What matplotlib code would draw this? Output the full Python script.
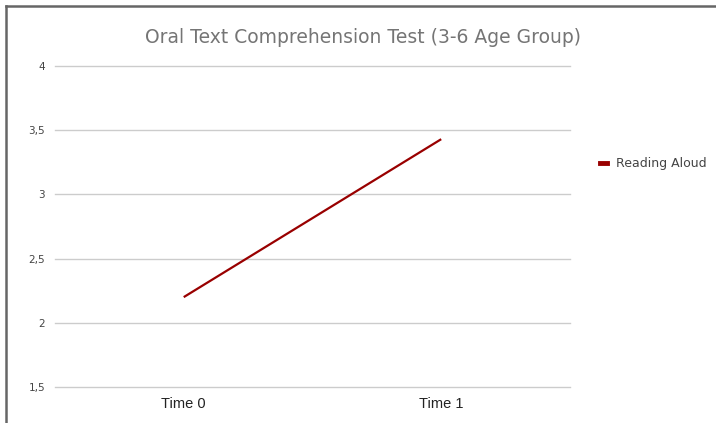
import matplotlib.pyplot as plt
from matplotlib.lines import Line2D

# data
categories = ["Time 0", "Time 1"]
reading_aloud = [2.2, 3.43]
y_ticks = [1.5, 2, 2.5, 3, 3.5, 4]
y_tick_labels = ["1,5", "2", "2,5", "3", "3,5", "4"]

fig = plt.figure(figsize=(7.16, 4.23), dpi=100)
ax = fig.add_axes([0.0768, 0.0851, 0.7192, 0.7589])

ax.plot(range(len(categories)), reading_aloud, color="#990000", linewidth=1.6,
        label="Reading Aloud", solid_capstyle="butt")

ax.set_xlim(-0.5, len(categories) - 0.5)
ax.set_ylim(1.5, 4)
ax.set_yticks(y_ticks)
ax.set_yticklabels(y_tick_labels, fontsize=7.5, color="#444444")
ax.set_xticks(range(len(categories)))
ax.set_xticklabels(categories, fontsize=10.5, color="#222222", family="Liberation Sans")
ax.tick_params(axis="both", length=0)
ax.tick_params(axis="y", pad=7)
ax.tick_params(axis="x", pad=7)
ax.grid(axis="y", color="#cccccc", linewidth=1)
for gl in ax.get_ygridlines():
    gl.set_clip_on(False)
ax.set_axisbelow(True)
for s in ax.spines.values():
    s.set_visible(False)

fig.text(0.507, 0.912, "Oral Text Comprehension Test (3-6 Age Group)",
         ha="center", va="center", fontsize=13.5, color="#757575")

fig.legend(handles=[Line2D([], [], color="#990000", linewidth=3.5)],
           labels=["Reading Aloud"], loc="center left",
           bbox_to_anchor=(0.822, 0.613), frameon=False, fontsize=9,
           labelcolor="#444444", handlelength=0.6, handletextpad=0.7)

# frame around the chart (top and left edges)
fig.add_artist(Line2D([0.0084, 1.0], [0.985, 0.985], transform=fig.transFigure,
                      color="#666666", linewidth=1.8))
fig.add_artist(Line2D([0.0084, 0.0084], [0.0, 0.985], transform=fig.transFigure,
                      color="#666666", linewidth=1.8))

plt.savefig("out.png", dpi=100)
